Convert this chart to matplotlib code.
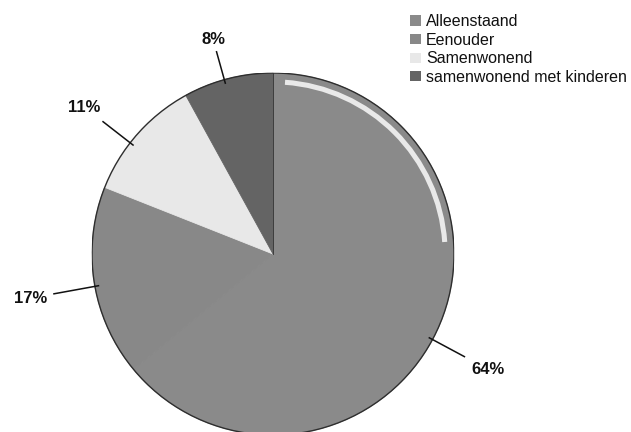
import numpy as np
import matplotlib
matplotlib.use("Agg")
import matplotlib.pyplot as plt
from matplotlib.patches import Wedge, Circle

categories = ["Alleenstaand", "Eenouder", "Samenwonend", "samenwonend met kinderen"]
values = [64, 17, 11, 8]
pct_labels = ["64%", "17%", "11%", "8%"]
colors = ["#8a8a8a", "#888888", "#e8e8e8", "#646464"]
label_dist = [1.35, 1.36, 1.32, 1.23]
label_ang_off = [-3.0, 1.3, 3.5, 1.2]
line_end = [1.20, 1.23, 1.19, 1.16]

plt.rcParams['font.family'] = ['Liberation Sans', 'DejaVu Sans']

W, H = 631, 432
fig = plt.figure(figsize=(W / 100, H / 100), dpi=100)
cx, cy, R = 273, 432 - 254, 181
ax = fig.add_axes([(cx - R) / W, (cy - R) / H, 2 * R / W, 2 * R / H])

wedges, _ = ax.pie(values, colors=colors, startangle=90, counterclock=False,
                   radius=1.0)
for w, c in zip(wedges, colors):
    w.set_edgecolor(c)
    w.set_linewidth(0.6)
ax.set_xlim(-1, 1)
ax.set_ylim(-1, 1)
ax.set_aspect("equal")
ax.axis("off")

# light highlight band on the outer part of the largest slice
ax.add_patch(Wedge((0, 0), 0.965, 4, 86, width=0.028, facecolor="#f4f4f4",
                   edgecolor="none", alpha=0.9))
# thin boundary line at the top between the dark and the large slice
ax.plot([0, 0], [0, 1], color="#333333", lw=0.6)
# outer rim
ax.add_patch(Circle((0, 0), 1.0, facecolor="none", edgecolor="#2e2e2e", lw=1.0))

for w, lab, d, off, le in zip(wedges, pct_labels, label_dist, label_ang_off, line_end):
    ang = np.deg2rad((w.theta1 + w.theta2) / 2 + off)
    x0, y0 = np.cos(ang), np.sin(ang)
    ax.plot([x0 * 0.98, x0 * le], [y0 * 0.98, y0 * le],
            color="#111111", lw=1.1, clip_on=False)
    ax.text(x0 * d, y0 * d, lab, ha="center", va="center", fontsize=12,
            fontweight="bold", color="#111111", clip_on=False)

handles = []
for w, c in zip(wedges, colors):
    h = plt.Rectangle((0, 0), 1, 1, facecolor=c, edgecolor="none")
    handles.append(h)
leg = fig.legend(handles, categories, loc="upper left",
                 bbox_to_anchor=(399 / W, 1 - 3 / H), frameon=False,
                 fontsize=11.5, handlelength=0.7, handleheight=0.6,
                 handletextpad=0.3, labelspacing=0.22, borderpad=0.2)
for t in leg.get_texts():
    t.set_color("#111111")

fig.savefig("out.png", dpi=100, facecolor="white")
